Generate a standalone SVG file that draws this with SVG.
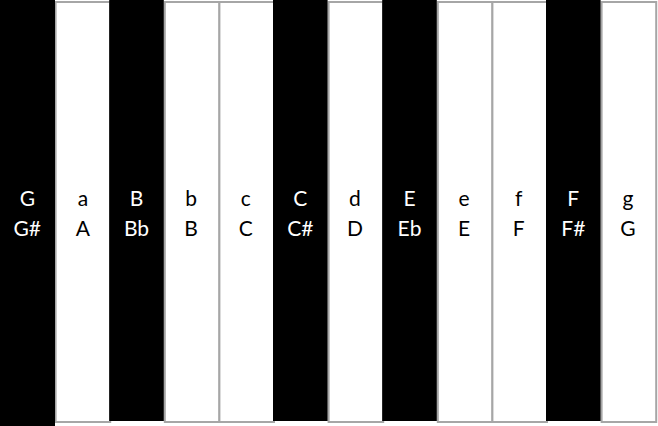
<svg xmlns="http://www.w3.org/2000/svg" width="658" height="426" viewBox="0 0 658 426">
<style>
.w{fill:#ffffff;stroke:#a6a6a6;stroke-width:2}
.b{fill:#000000;stroke:none}
text{font-family:Lato,"Open Sans",sans-serif;font-size:21px;text-anchor:middle}
.tb{fill:#ffffff}
.tw{fill:#000000}
</style>
<rect x="0" y="0" width="658" height="426" fill="#ffffff"/>
<g id="connectors"/>
<g id="key1"><rect class="w" x="55.6" y="2" width="54.6" height="420"/><text class="tw" x="82.9" y="206">a</text><text class="tw" x="82.9" y="236">A</text></g>
<g id="key3"><rect class="w" x="164.8" y="2" width="54.6" height="420"/><text class="tw" x="191.1" y="206">b</text><text class="tw" x="191.1" y="236">B</text></g>
<g id="key4"><rect class="w" x="219.4" y="2" width="54.6" height="420"/><text class="tw" x="245.7" y="206">c</text><text class="tw" x="245.7" y="236">C</text></g>
<g id="key6"><rect class="w" x="328.6" y="2" width="54.6" height="420"/><text class="tw" x="354.9" y="206">d</text><text class="tw" x="354.9" y="236">D</text></g>
<g id="key8"><rect class="w" x="437.8" y="2" width="54.6" height="420"/><text class="tw" x="464.1" y="206">e</text><text class="tw" x="464.1" y="236">E</text></g>
<g id="key9"><rect class="w" x="492.4" y="2" width="54.6" height="420"/><text class="tw" x="518.7" y="206">f</text><text class="tw" x="518.7" y="236">F</text></g>
<g id="key11"><rect class="w" x="601.6" y="2" width="54.6" height="420"/><text class="tw" x="627.9" y="206">g</text><text class="tw" x="627.9" y="236">G</text></g>
<g id="key0"><rect class="b" x="0" y="0" width="55" height="426"/><text class="tb" x="27.3" y="206">G</text><text class="tb" x="27.3" y="236">G#</text></g>
<g id="key2"><rect class="b" x="109.2" y="0" width="54.6" height="421"/><text class="tb" x="136.5" y="206">B</text><text class="tb" x="136.5" y="236">Bb</text></g>
<g id="key5"><rect class="b" x="273" y="0" width="54.6" height="421"/><text class="tb" x="300.3" y="206">C</text><text class="tb" x="300.3" y="236">C#</text></g>
<g id="key7"><rect class="b" x="382.2" y="0" width="54.6" height="421"/><text class="tb" x="409.5" y="206">E</text><text class="tb" x="409.5" y="236">Eb</text></g>
<g id="key10"><rect class="b" x="546" y="0" width="54.6" height="421"/><text class="tb" x="573.3" y="206">F</text><text class="tb" x="573.3" y="236">F#</text></g>
</svg>
